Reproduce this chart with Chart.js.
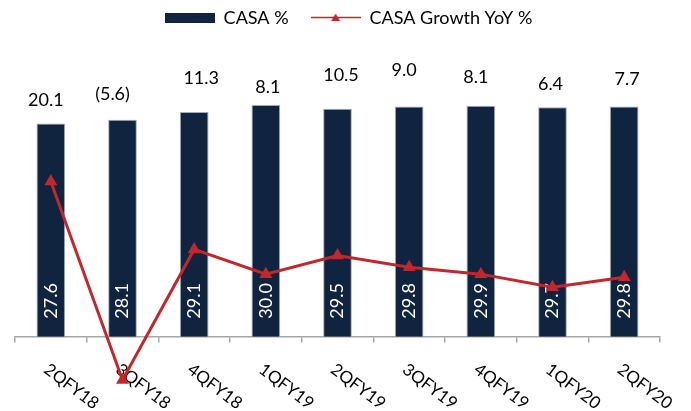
<!DOCTYPE html>
<html>
<head>
<meta charset="utf-8">
<script src="https://cdn.jsdelivr.net/npm/chart.js@4.4.0/dist/chart.umd.min.js"></script>
<style>
  html, body { margin: 0; padding: 0; background: #fff; }
</style>
</head>
<body>
<canvas id="myChart" width="691" height="411"></canvas>
<script>
// data
var quarters = ["2QFY18", "3QFY18", "4QFY18", "1QFY19", "2QFY19", "3QFY19", "4QFY19", "1QFY20", "2QFY20"];
var casaShare = [27.6, 28.1, 29.1, 30.0, 29.5, 29.8, 29.9, 29.7, 29.8];
var casaGrowth = [20.1, -5.6, 11.3, 8.1, 10.5, 9.0, 8.1, 6.4, 7.7];

var navy = "#10243f";
var red = "#c1272d";

// the growth labels sit at hand-placed spots above the bars (px from bar top)
var growthLabelLift = [23, 25, 34, 17.5, 33.5, 36, 29, 23, 27];
var growthLabelShift = [-5, -10, 7, 2, 3.5, -5, -5, -2, 3];

Chart.defaults.font.family = "Lato, 'Open Sans', sans-serif";
Chart.defaults.color = "#000";

function swatch(draw) {
  var c = document.createElement("canvas");
  c.width = 50;
  c.height = 12;
  draw(c.getContext("2d"));
  return c;
}
var barSwatch = swatch(function (g) {
  g.fillStyle = navy;
  g.fillRect(0, 1, 50, 10);
});
var lineSwatch = swatch(function (g) {
  g.strokeStyle = red;
  g.lineWidth = 1.5;
  g.beginPath(); g.moveTo(0, 5.5); g.lineTo(50, 5.5); g.stroke();
  g.fillStyle = red;
  g.beginPath(); g.moveTo(25, 1.5); g.lineTo(29.5, 9); g.lineTo(20.5, 9); g.closePath(); g.fill();
});

function fmtGrowth(v) {
  return v < 0 ? "(" + Math.abs(v).toFixed(1) + ")" : v.toFixed(1);
}

var labelPlugin = {
  id: "casaLabels",
  // legend in the original sits a little right of centre
  afterLayout: function (chart) {
    chart.legend.left += 11;
    chart.legend.right += 11;
  },
  // quarter names, slanted down to the right under the axis
  beforeDatasetsDraw: function (chart) {
    var g = chart.ctx, xs = chart.scales.x, zero = chart.scales.y.getPixelForValue(0);
    g.save();
    g.font = "17px Lato";
    g.fillStyle = "#000";
    g.textAlign = "left";
    g.textBaseline = "alphabetic";
    quarters.forEach(function (q, i) {
      g.save();
      g.translate(xs.getPixelForTick(i) - 8, zero + 35);
      g.rotate(37 * Math.PI / 180);
      g.fillText(q, 0, 0);
      g.restore();
    });
    g.restore();
  },
  // CASA % values written up the bars, before the line is drawn
  afterDatasetDraw: function (chart, args) {
    if (args.index !== 0) return;
    var g = chart.ctx, zero = chart.scales.y.getPixelForValue(0);
    g.save();
    g.font = "18px Lato";
    g.fillStyle = "#fff";
    g.textAlign = "left";
    g.textBaseline = "middle";
    args.meta.data.forEach(function (bar, i) {
      g.save();
      g.translate(bar.x, zero - 18);
      g.rotate(-Math.PI / 2);
      g.fillText(casaShare[i].toFixed(1), 0, 0);
      g.restore();
    });
    g.restore();
  },
  // growth values above the bars
  afterDraw: function (chart) {
    var g = chart.ctx, bars = chart.getDatasetMeta(0).data;
    g.save();
    g.font = "18px Lato";
    g.fillStyle = "#000";
    g.textAlign = "center";
    g.textBaseline = "middle";
    bars.forEach(function (bar, i) {
      g.fillText(fmtGrowth(casaGrowth[i]), bar.x + growthLabelShift[i], bar.y - growthLabelLift[i]);
    });
    g.restore();
  }
};

var ctx = document.getElementById("myChart");

var data = {
  labels: quarters,
  datasets: [
    {
      type: "bar",
      label: "CASA %",
      data: casaShare,
      backgroundColor: navy,
      borderColor: "rgba(150,162,180,0.9)",
      borderWidth: 1,
      barPercentage: 0.4,
      categoryPercentage: 1.0,
      order: 1
    },
    {
      type: "line",
      label: "CASA Growth YoY %",
      data: casaGrowth,
      borderColor: red,
      backgroundColor: red,
      borderWidth: 3,
      tension: 0,
      fill: false,
      pointStyle: "triangle",
      pointRadius: 7.5,
      pointBorderWidth: 0,
      pointBackgroundColor: red,
      order: 0
    }
  ]
};

var options = {
  responsive: false,
  animation: false,
  layout: { padding: { top: -13, left: 15, right: 31, bottom: 12.5 } },
  plugins: {
    tooltip: { enabled: false },
    legend: {
      display: true,
      position: "top",
      labels: {
        usePointStyle: true,
        pointStyleWidth: 50,
        padding: 22,
        font: { size: 18 },
        color: "#000",
        sort: function (a, b) { return a.datasetIndex - b.datasetIndex; },
        generateLabels: function (chart) {
          var items = Chart.defaults.plugins.legend.labels.generateLabels(chart);
          items.forEach(function (it) {
            it.pointStyle = it.datasetIndex === 0 ? barSwatch : lineSwatch;
          });
          return items;
        }
      }
    }
  },
  scales: {
    x: {
      position: { y: 0 },
      offset: true,
      grid: { offset: true, drawOnChartArea: false, drawTicks: true, tickLength: 5, color: "#a6a6a6", lineWidth: 1.5 },
      border: { display: true, color: "#a6a6a6", width: 1.5 },
      ticks: { display: false }
    },
    y: { display: false, min: -8, max: 38.8 }
  }
};

var chart = new Chart(ctx, {
  type: "bar",
  data: data,
  options: options,
  plugins: [labelPlugin]
});
</script>
</body>
</html>
